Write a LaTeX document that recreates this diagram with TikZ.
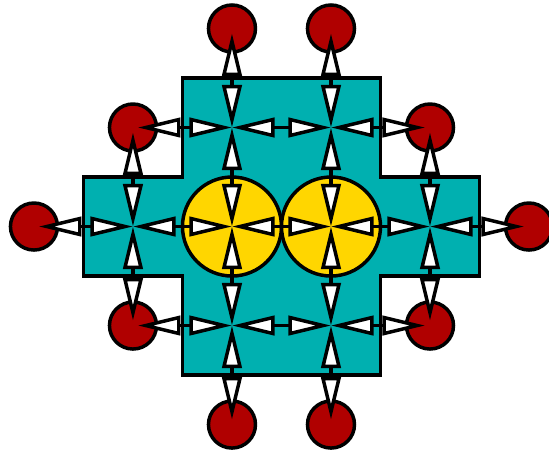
\documentclass[tikz,border=0pt]{standalone}
\usetikzlibrary{arrows.meta}
\definecolor{tealfill}{RGB}{0,176,176}
\definecolor{sinkred}{RGB}{176,0,0}
\definecolor{coreyellow}{RGB}{255,214,0}
\begin{document}
\begin{tikzpicture}[x=2cm, y=2cm, line width=2pt,
  red/.style={draw, circle, fill=sinkred, minimum size=0.95cm, inner sep=0pt},
  core/.style={draw, circle, fill=coreyellow, minimum size=2cm, inner sep=0pt},
  link/.style={{Triangle[length=8.6mm, width=3.9mm, fill=white]}-{Triangle[length=8.6mm, width=3.9mm, fill=white]}},
  redlink/.style={link, shorten <=1mm}]
\useasboundingbox (-2.843,-2.298) rectangle (2.702,2.288);
% cross shaped block
\draw[fill=tealfill] (-1,1.5) -- (1,1.5) -- (1,0.5) -- (2,0.5) -- (2,-0.5) -- (1,-0.5)
  -- (1,-1.5) -- (-1,-1.5) -- (-1,-0.5) -- (-2,-0.5) -- (-2,0.5) -- (-1,0.5) -- cycle;
% inner points
\coordinate (na) at (-0.5,1);
\coordinate (nb) at (0.5,1);
\coordinate (nc) at (-1.5,0);
\coordinate (nd) at (1.5,0);
\coordinate (ne) at (-0.5,-1);
\coordinate (nf) at (0.5,-1);
% yellow circles
\node[core] (ya) at (-0.5,0) {};
\node[core] (yb) at (0.5,0) {};
% red circles
\node[red] (tl) at (-1.5,1) {};
\node[red] (tr) at (1.5,1) {};
\node[red] (bl) at (-1.5,-1) {};
\node[red] (br) at (1.5,-1) {};
\node[red] (ta) at (-0.5,2) {};
\node[red] (tb) at (0.5,2) {};
\node[red] (ba) at (-0.5,-2) {};
\node[red] (bb) at (0.5,-2) {};
\node[red] (lf) at (-2.5,0) {};
\node[red] (rt) at (2.5,0) {};
% horizontal links
\draw[redlink] (tl.center) -- (na);
\draw[link] (na) -- (nb);
\draw[redlink] (tr.center) -- (nb);
\draw[redlink] (lf.center) -- (nc);
\draw[link] (nc) -- (ya.center);
\draw[link] (ya.center) -- (yb.center);
\draw[link] (yb.center) -- (nd);
\draw[redlink] (rt.center) -- (nd);
\draw[redlink] (bl.center) -- (ne);
\draw[link] (ne) -- (nf);
\draw[redlink] (br.center) -- (nf);
% vertical links
\draw[redlink] (tl.center) -- (nc);
\draw[redlink] (bl.center) -- (nc);
\draw[redlink] (ta.center) -- (na);
\draw[link] (na) -- (ya.center);
\draw[link] (ya.center) -- (ne);
\draw[redlink] (ba.center) -- (ne);
\draw[redlink] (tb.center) -- (nb);
\draw[link] (nb) -- (yb.center);
\draw[link] (yb.center) -- (nf);
\draw[redlink] (bb.center) -- (nf);
\draw[redlink] (tr.center) -- (nd);
\draw[redlink] (br.center) -- (nd);
\end{tikzpicture}
\end{document}
